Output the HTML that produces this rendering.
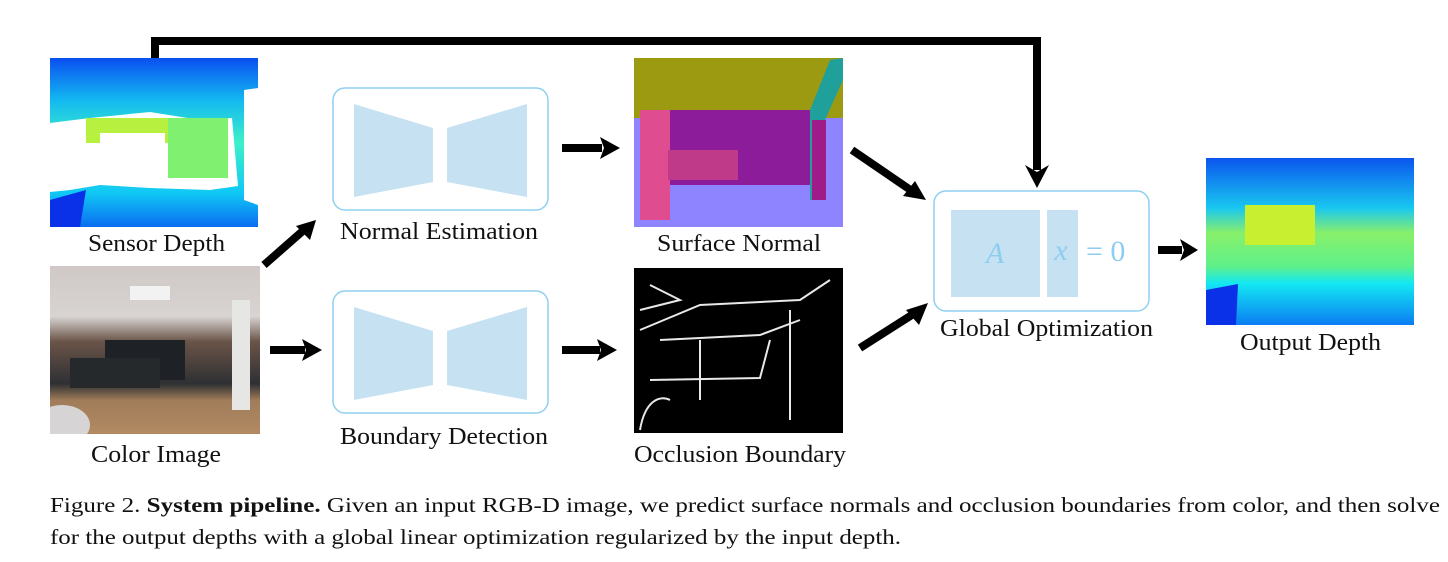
<!DOCTYPE html>
<html><head><meta charset="utf-8"><style>
html,body{margin:0;padding:0;background:#fff;}
svg{display:block;}
text{font-family:"Liberation Serif",serif;fill:#111;}
</style></head><body>
<svg width="1448" height="562" viewBox="0 0 1448 562" xmlns="http://www.w3.org/2000/svg">
<defs>
<linearGradient id="dep" x1="0" y1="0" x2="0" y2="1">
<stop offset="0" stop-color="#0a4ff0"/><stop offset="0.25" stop-color="#13b9f0"/><stop offset="0.5" stop-color="#3ef0c8"/><stop offset="0.8" stop-color="#10c8f5"/><stop offset="1" stop-color="#0a6cf0"/></linearGradient>
<linearGradient id="out" x1="0" y1="0" x2="0" y2="1">
<stop offset="0" stop-color="#0a55ee"/><stop offset="0.3" stop-color="#19c8f0"/><stop offset="0.45" stop-color="#88f06a"/><stop offset="0.65" stop-color="#5ef08a"/><stop offset="0.75" stop-color="#14e8f2"/><stop offset="1" stop-color="#0a7cf2"/></linearGradient>
<linearGradient id="col" x1="0" y1="0" x2="0" y2="1">
<stop offset="0" stop-color="#cfc8c6"/><stop offset="0.3" stop-color="#d8d4d2"/><stop offset="0.45" stop-color="#6a5448"/><stop offset="0.7" stop-color="#2e3033"/><stop offset="0.8" stop-color="#a07c5a"/><stop offset="1" stop-color="#b28a62"/></linearGradient>
<clipPath id="cc"><rect x="50" y="266" width="210" height="168"/></clipPath>
</defs>

<!-- Sensor depth -->
<rect x="50" y="58" width="208" height="169" fill="url(#dep)"/>
<path d="M50 123 L90 118 L150 112 L200 120 L232 118 L238 186 L210 190 L150 188 L100 185 L70 190 L50 192 Z" fill="#fff"/>
<rect x="86" y="118" width="90" height="25" fill="#b8f040"/>
<rect x="168" y="118" width="60" height="60" fill="#80f070"/>
<rect x="100" y="133" width="65" height="45" fill="#fff"/>
<path d="M244 90 L258 88 L258 205 L244 200 Z" fill="#fff"/>
<path d="M50 200 L86 190 L80 227 L50 227 Z" fill="#0a30e8"/>

<!-- Color image -->
<g clip-path="url(#cc)">
<rect x="50" y="266" width="210" height="168" fill="url(#col)"/>
<rect x="130" y="286" width="40" height="14" fill="#f2f2f2"/>
<rect x="105" y="340" width="80" height="40" fill="#1e2226"/>
<rect x="70" y="358" width="90" height="30" fill="#26292c"/>
<rect x="232" y="300" width="18" height="110" fill="#e6e6e4"/>
<ellipse cx="62" cy="425" rx="28" ry="20" fill="#d6d4d4"/>
</g>

<!-- Top connector -->
<path d="M155 58 L155 41 L1037 41 L1037 170" fill="none" stroke="#000" stroke-width="8"/>
<path d="M1025 165 L1037 188 L1049 165 L1037 172 Z" fill="#000"/>

<!-- Arrows -->
<g fill="#000" stroke="#000">
<line x1="264" y1="265" x2="305" y2="229" stroke-width="8"/>
<path d="M316 220 L296 226 L310 240 Z" stroke="none"/>
<line x1="270" y1="350" x2="305" y2="350" stroke-width="8"/>
<path d="M322 350 L302 339 L306 350 L302 361 Z" stroke="none"/>
<line x1="562" y1="148" x2="602" y2="148" stroke-width="8"/>
<path d="M620 148 L600 137 L604 148 L600 159 Z" stroke="none"/>
<line x1="562" y1="350" x2="600" y2="350" stroke-width="8"/>
<path d="M617 350 L597 339 L601 350 L597 361 Z" stroke="none"/>
<line x1="852" y1="150" x2="912" y2="191" stroke-width="8"/>
<path d="M926 200 L903 196 L915 181 Z" stroke="none"/>
<line x1="860" y1="348" x2="915" y2="313" stroke-width="8"/>
<path d="M928 303 L919 325 L906 310 Z" stroke="none"/>
<line x1="1158" y1="250" x2="1182" y2="250" stroke-width="8"/>
<path d="M1198 250 L1180 239 L1184 250 L1180 261 Z" stroke="none"/>
</g>

<!-- Network boxes -->
<g fill="none" stroke="#8fd0f0" stroke-width="1.5">
<rect x="333" y="88" width="215" height="122" rx="12"/>
<rect x="333" y="291" width="215" height="122" rx="12"/>
<rect x="934" y="191" width="215" height="120" rx="12"/>
</g>
<g fill="#c6e1f2">
<path d="M354 104 L433 128 L433 182 L354 197 Z"/>
<path d="M447 128 L527 104 L527 197 L447 182 Z"/>
<path d="M354 307 L433 331 L433 385 L354 400 Z"/>
<path d="M447 331 L527 307 L527 400 L447 385 Z"/>
<rect x="951" y="210" width="89" height="87"/>
<rect x="1047" y="210" width="31" height="87"/>
</g>
<text x="995" y="263" font-size="30" font-style="italic" text-anchor="middle" style="fill:#8ccdf0">A</text>
<text x="1061" y="260" font-size="30" font-style="italic" text-anchor="middle" style="fill:#8ccdf0">x</text>
<text x="1086" y="261" font-size="30" style="fill:#8ccdf0">= 0</text>

<!-- Surface normal -->
<rect x="634" y="58" width="209" height="169" fill="#8e84ff"/>
<rect x="634" y="58" width="209" height="60" fill="#9c9a10"/>
<rect x="640" y="110" width="170" height="75" fill="#8c1c9a"/>
<rect x="640" y="110" width="30" height="110" fill="#e04c90"/>
<rect x="668" y="150" width="70" height="30" fill="#c03a8a"/>
<path d="M810 110 L830 60 L843 58 L843 80 L825 120 L825 200 L810 200 Z" fill="#20a09a"/>
<rect x="812" y="120" width="14" height="80" fill="#a01a8a"/>

<!-- Occlusion boundary -->
<rect x="634" y="268" width="209" height="165" fill="#000"/>
<g stroke="#e8e8e8" stroke-width="2" fill="none">
<path d="M640 330 L700 305 L800 300 L830 280"/>
<path d="M660 340 L760 335 L800 320"/>
<path d="M650 380 L760 378 L770 340"/>
<path d="M700 340 L700 400"/><path d="M790 310 L790 420"/>
<path d="M640 430 C645 400 660 395 670 400"/>
<path d="M650 285 L680 300 L640 310"/>
</g>

<!-- Output depth -->
<rect x="1206" y="158" width="208" height="167" fill="url(#out)"/>
<rect x="1245" y="205" width="70" height="40" fill="#c8f030"/>
<path d="M1206 290 L1238 284 L1236 325 L1206 325 Z" fill="#0a30e8"/>

<!-- Labels -->
<g font-size="24" lengthAdjust="spacingAndGlyphs">
<text x="88" y="251" textLength="137" lengthAdjust="spacingAndGlyphs">Sensor Depth</text>
<text x="91" y="462" textLength="130" lengthAdjust="spacingAndGlyphs">Color Image</text>
<text x="340" y="239" textLength="198" lengthAdjust="spacingAndGlyphs">Normal Estimation</text>
<text x="340" y="444" textLength="208" lengthAdjust="spacingAndGlyphs">Boundary Detection</text>
<text x="657" y="251" textLength="164" lengthAdjust="spacingAndGlyphs">Surface Normal</text>
<text x="634" y="462" textLength="212" lengthAdjust="spacingAndGlyphs">Occlusion Boundary</text>
<text x="940" y="336" textLength="213" lengthAdjust="spacingAndGlyphs">Global Optimization</text>
<text x="1240" y="350" textLength="141" lengthAdjust="spacingAndGlyphs">Output Depth</text>
</g>
<text x="50" y="512" font-size="21" textLength="1390" lengthAdjust="spacingAndGlyphs">Figure 2. <tspan font-weight="bold">System pipeline.</tspan> Given an input RGB-D image, we predict surface normals and occlusion boundaries from color, and then solve</text>
<text x="50" y="544" font-size="21" textLength="851" lengthAdjust="spacingAndGlyphs">for the output depths with a global linear optimization regularized by the input depth.</text>
</svg>
</body></html>
